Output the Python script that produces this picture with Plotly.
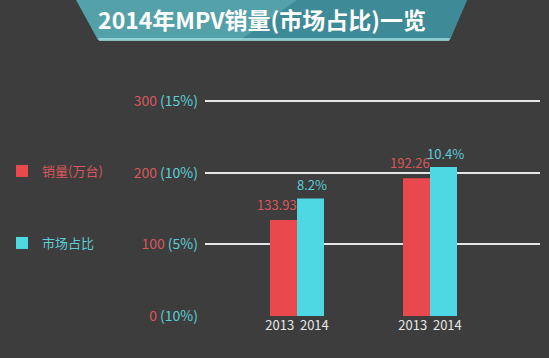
import plotly.graph_objects as go

# ---------------- data ----------------
groups = ["g1", "g2"]
group_labels = ["2013  2014", "2013  2014"]
sales = [133.93, 192.26]          # 销量(万台)
share = [8.2, 10.4]               # 市场占比 (%)
sales_text = ["133.93", "192.26"]
share_text = ["8.2%", "10.4%"]
left_ticks = [0, 100, 200, 300]
left_tick_labels = ["0", "100", "200", "300"]
right_tick_labels = ["(10%)", "(5%)", "(10%)", "(15%)"]
title_text = "2014年MPV销量(市场占比)一览"
sales_name = "销量(万台)"
share_name = "市场占比"

# ---------------- style ----------------
W, H = 549, 358
RED = "#e9494d"
CYAN = "#4ed8e3"
RED_TXT = "#d9575c"
CYAN_TXT = "#5ccdd5"
BG = "#3d3d3d"
FONT = "Noto Sans CJK SC, Noto Sans, sans-serif"

ML, MR, MT, MB = 205, 9, 80, 42
PW, PH = W - ML - MR, H - MT - MB
px_per_unit = 215 / 300.0
y_top = PH / px_per_unit


def px2paper(x, y):
    return (x - ML) / PW, (H - MB - y) / PH


ticktext = [
    f"<span style='color:{RED_TXT}'>{a}</span> <span style='color:{CYAN_TXT}'>{b}</span>"
    for a, b in zip(left_tick_labels, right_tick_labels)
]

fig = go.Figure()
fig.add_trace(go.Bar(
    x=groups, y=sales, name=sales_name, marker=dict(color=RED, line=dict(width=0)),
    offsetgroup="a", yaxis="y", legend="legend", hoverinfo="skip",
))
fig.add_trace(go.Bar(
    x=groups, y=share, name=share_name, marker=dict(color=CYAN, line=dict(width=0)),
    offsetgroup="b", yaxis="y2", legend="legend2", hoverinfo="skip",
))

# value labels placed at each bar's value
annotations = []
for g, v, t in zip(groups, sales, sales_text):
    annotations.append(dict(x=g, y=v, xref="x", yref="y", text=t, showarrow=False,
                            xanchor="center", yanchor="bottom", xshift=-20, yshift=4,
                            font=dict(color=RED_TXT, size=13, family=FONT)))
for g, v, t in zip(groups, share, share_text):
    annotations.append(dict(x=g, y=v, xref="x", yref="y2", text=t, showarrow=False,
                            xanchor="center", yanchor="bottom", xshift=15, yshift=2,
                            font=dict(color=CYAN_TXT, size=13, family=FONT)))

# title banner
def path_from(points):
    pts = [px2paper(x, y) for x, y in points]
    return "M " + " L ".join(f"{a:.4f},{b:.4f}" for a, b in pts) + " Z"

shapes = [
    dict(type="path", xref="paper", yref="paper", layer="below",
         path=path_from([(75, -2), (468, -2), (450, 40), (98, 40)]),
         fillcolor="#3e8a96", line=dict(width=0)),
    dict(type="path", xref="paper", yref="paper", layer="below",
         path=path_from([(75, -2), (300, -2), (240, 40), (98, 40)]),
         fillcolor="#7fcad0", opacity=0.35, line=dict(width=0)),
    dict(type="path", xref="paper", yref="paper", layer="below",
         path=path_from([(98, 38), (450, 38), (449, 41), (99, 41)]),
         fillcolor="#9fdde0", opacity=0.8, line=dict(width=0)),
]

lx, _ = px2paper(2, 0)
_, ly1 = px2paper(0, 171)
_, ly2 = px2paper(0, 243)

fig.update_layout(
    width=W, height=H,
    paper_bgcolor=BG, plot_bgcolor=BG,
    margin=dict(l=ML, r=MR, t=MT, b=MB, autoexpand=False),
    barmode="group", bargap=0.594, bargroupgap=0,
    font=dict(family=FONT, size=14, color="#e6e6e6"),
    title=dict(text=title_text, x=262 / W, xanchor="center", y=1 - 21 / H, yanchor="middle",
               font=dict(family=FONT, size=23, color="#ffffff", weight="bold")),
    xaxis=dict(range=[(205 - 297) / 133, (540 - 297) / 133], tickvals=groups, ticktext=group_labels,
               showgrid=False, zeroline=False, showline=False, ticks="",
               tickfont=dict(color="#e8e8e8", size=13), fixedrange=True),
    yaxis=dict(range=[0, y_top], tickvals=left_ticks, ticktext=ticktext, showgrid=True,
               gridcolor="#e6e6e6", gridwidth=1.5, zeroline=False, showline=False, ticks="",
               ticklabelstandoff=6, tickfont=dict(size=14), fixedrange=True),
    yaxis2=dict(range=[0, y_top / 20], overlaying="y", side="right", showgrid=False,
                zeroline=False, showticklabels=False, fixedrange=True),
    legend=dict(x=lx, y=ly1, xanchor="left", yanchor="middle", bgcolor="rgba(0,0,0,0)",
                font=dict(color=RED_TXT, size=13, family=FONT), itemwidth=30),
    legend2=dict(x=lx, y=ly2, xanchor="left", yanchor="middle", bgcolor="rgba(0,0,0,0)",
                 font=dict(color=CYAN_TXT, size=13, family=FONT), itemwidth=30),
    showlegend=True,
    hovermode=False,
    shapes=shapes,
    annotations=annotations,
)

fig.write_html(
    "out.html",
    config={"displayModeBar": False},
    post_script="document.body.style.margin='0';document.body.style.background='%s';" % BG,
)
